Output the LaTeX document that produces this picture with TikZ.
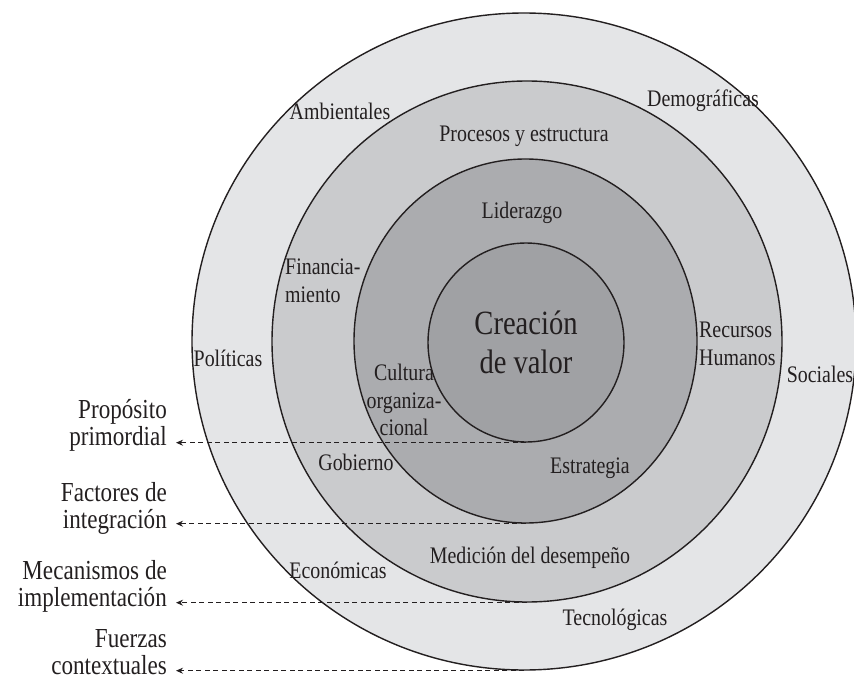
\documentclass[tikz,border=0pt]{standalone}
\usepackage{fontspec}
\setmainfont{Liberation Serif}[FakeStretch=0.84]
\usetikzlibrary{shapes.geometric,arrows.meta}

\definecolor{ink}{HTML}{231F20}
\definecolor{ringout}{HTML}{E4E5E7}
\definecolor{ringmid}{HTML}{CACBCD}
\definecolor{ringin}{HTML}{ABACAF}
\definecolor{ringcore}{HTML}{A0A1A4}

\tikzset{
  ring/.style={ellipse, draw=ink, line width=1.4pt, inner sep=0pt},
  ringlab/.style={font=\fontsize{23.7}{27.5}\selectfont, inner sep=0pt, align=center, text=ink},
  sidelab/.style={font=\fontsize{27.5}{27}\selectfont, inner sep=0pt, align=right, anchor=east, text=ink},
  guide/.style={draw=ink, line width=1pt, dash pattern=on 5pt off 3.5pt, -{Stealth[length=7pt,width=6pt]}}
}

\begin{document}
\begin{tikzpicture}[x=1pt, y=-1pt]
  \useasboundingbox (0,0) rectangle (854,679);

  % the four rings
  \node[ring, fill=ringout, minimum width=664pt, minimum height=657pt] (outer) at (524,341.5) {};
  \node[ring, fill=ringmid, minimum width=510pt, minimum height=521pt] (mid) at (527,341.5) {};
  \node[ring, fill=ringin, minimum width=343pt, minimum height=364pt] (third) at (525.5,341) {};
  \node[ring, fill=ringcore, minimum width=196pt, minimum height=199pt,
        font=\fontsize{34}{39}\selectfont, align=center, text=ink] (core) at (526,342.5) {Creación\\de valor};

  % contextual forces
  \node[ringlab] (ambient) at (340,111) {Ambientales};
  \node[ringlab] (demog) at (703,101) {Demográficas};
  \node[ringlab] (polit) at (228,358) {Políticas};
  \node[ringlab] (social) at (820,374) {Sociales};
  \node[ringlab] (econ) at (338,570) {Económicas};
  \node[ringlab] (tecno) at (615,620) {Tecnológicas};

  % implementation mechanisms
  \node[ringlab] (procesos) at (524,136) {Procesos y estructura};
  \node[ringlab, align=left, anchor=west] (financ) at (285,281) {Financia-\\miento};
  \node[ringlab, align=left, anchor=west] (rrhh) at (699,344) {Recursos\\Humanos};
  \node[ringlab] (gobierno) at (356,462) {Gobierno};
  \node[ringlab] (medicion) at (530,558) {Medición del desempeño};

  % integration factors
  \node[ringlab] (lider) at (522,213) {Liderazgo};
  \node[ringlab] (cultura) at (404,400) {Cultura\\organiza-\\cional};
  \node[ringlab] (estrat) at (590,468) {Estrategia};

  % legend on the left
  \coordinate (tip) at (176,0);
  \node[sidelab] (lprop) at (167,425) {Propósito\\primordial};
  \node[sidelab] (lfact) at (167,508) {Factores de\\integración};
  \node[sidelab] (lmeca) at (167,586) {Mecanismos de\\implementación};
  \node[sidelab] (lfuer) at (167,652) {Fuerzas\\contextuales};

  \draw[guide] (core.south) -- (core.south -| tip);
  \draw[guide] (third.south) -- (third.south -| tip);
  \draw[guide] (mid.south) -- (mid.south -| tip);
  \draw[guide] (outer.south) -- (outer.south -| tip);
\end{tikzpicture}
\end{document}
